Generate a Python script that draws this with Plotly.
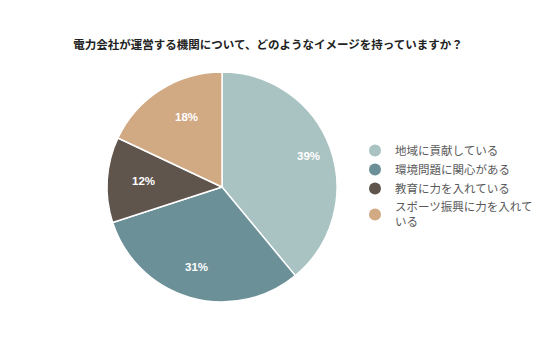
import math
import plotly.graph_objects as go

title = "電力会社が運営する機関について、どのようなイメージを持っていますか？"
labels = ["地域に貢献している", "環境問題に関心がある", "教育に力を入れている", "スポーツ振興に力を入れて<br>いる"]
values = [39, 31, 12, 18]
colors = ["#A9C2C2", "#6B9097", "#5F554D", "#D1A983"]

W, H = 536, 357
cx, cy, r = 222, 187, 115

fig = go.Figure()
fig.add_trace(go.Pie(
    labels=labels, values=values, sort=False, direction="clockwise", rotation=0,
    marker=dict(colors=colors, line=dict(color="white", width=1.5)),
    textinfo="none", showlegend=False, hoverinfo="label+percent",
    domain=dict(x=[(cx - r) / W, (cx + r) / W], y=[(H - cy - r) / H, (H - cy + r) / H]),
))
for lab, col in zip(labels, colors):
    fig.add_trace(go.Scatter(x=[None], y=[None], mode="markers", name=lab,
                             marker=dict(symbol="circle", size=11, color=col)))

# percentage labels placed at 80% of the radius, at each slice's mid angle
total = sum(values)
cum = 0
for v in values:
    mid = (cum + v / 2) / total * 2 * math.pi
    cum += v
    px = cx + 0.8 * r * math.sin(mid)
    py = cy - 0.8 * r * math.cos(mid)
    fig.add_annotation(x=px / W, y=1 - py / H, xref="paper", yref="paper",
                       text="<b>%d%%</b>" % round(v / total * 100), showarrow=False,
                       font=dict(color="white", size=11.5, family="Arial, Liberation Sans, sans-serif"))

fig.update_layout(
    width=W, height=H,
    margin=dict(l=0, r=0, t=0, b=0, autoexpand=False),
    paper_bgcolor="white", plot_bgcolor="white",
    font=dict(family="Noto Sans CJK JP, sans-serif", color="#595959", size=11),
    title=dict(text="<b>" + title + "</b>", x=0.5, xanchor="center", y=1 - 45 / H, yanchor="middle",
               font=dict(size=11.5, color="#222222", family="Noto Sans CJK JP, sans-serif")),
    legend=dict(x=355 / W, y=1 - 136 / H, xanchor="left", yanchor="top",
                font=dict(size=11.5, color="#595959"), itemsizing="constant",
                tracegroupgap=0, itemwidth=30),
    xaxis=dict(visible=False), yaxis=dict(visible=False),
)
fig.write_html("out.html", config={"displayModeBar": False},
               post_script="document.body.style.margin='0';")
